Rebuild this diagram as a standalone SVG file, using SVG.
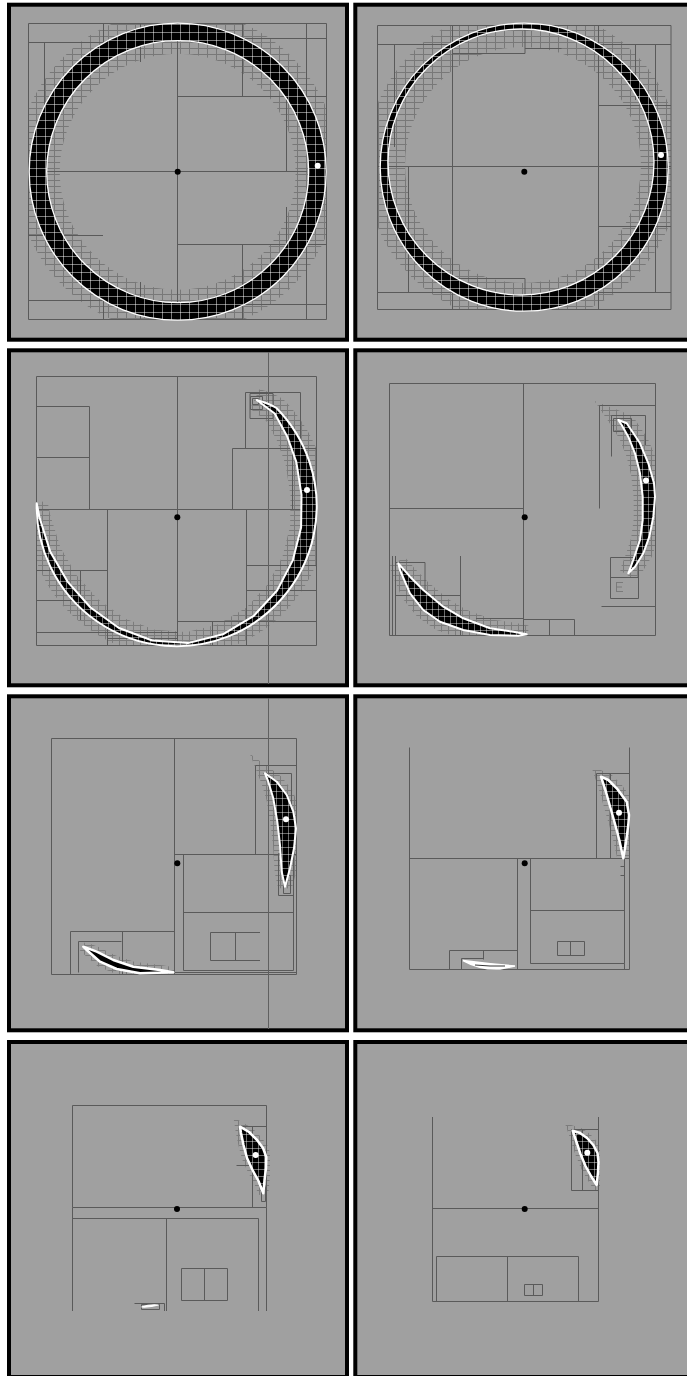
<svg xmlns="http://www.w3.org/2000/svg" xmlns:xlink="http://www.w3.org/1999/xlink" width="687" height="1376" viewBox="0 0 687 1376">
<style>
.frame{fill:#a0a0a0;stroke:#000;stroke-width:4}
.q{fill:none;stroke:#5a5a5a;stroke-width:1}
.ql{fill:none;stroke:#7a7a7a;stroke-width:1}
.cr{fill:#000;stroke:#fff;stroke-width:2;stroke-linejoin:round}
.ring{fill:#000;fill-rule:evenodd}
.wo{fill:none;stroke:#fff;stroke-width:1.3}
.cd{fill:#000}
.wd{fill:#fff}
</style>
<defs>
<pattern id="gg" width="9" height="6" patternUnits="userSpaceOnUse"><path d="M0 0.5H9M0.5 0V6" fill="none" stroke="#787878" stroke-width="1"/></pattern>
<pattern id="gs" width="7" height="5" patternUnits="userSpaceOnUse"><path d="M0 0.5H7M0.5 0V5" fill="none" stroke="#7c7c7c" stroke-width="1"/></pattern>
<pattern id="wg" width="9" height="8" patternUnits="userSpaceOnUse"><path d="M0 0.5H9M0.5 0V8" fill="none" stroke="#fff" stroke-width="0.8" opacity="0.6"/></pattern>
<pattern id="ws" width="6" height="7" patternUnits="userSpaceOnUse"><path d="M0 0.5H6M0.5 0V7" fill="none" stroke="#fff" stroke-width="0.7" opacity="0.6"/></pattern>
<path id="r1" d="M29.2 171.7a148.5 148.5 0 1 0 297 0a148.5 148.5 0 1 0 -297 0ZM46.7 171.7a131 131 0 1 0 262 0a131 131 0 1 0 -262 0Z"/>
<path id="r2" d="M380.2 167.2a144 144 0 1 0 288 0a144 144 0 1 0 -288 0ZM388 162a133 133 0 1 0 266 0a133 133 0 1 0 -266 0Z"/>
<path id="c3" d="M256.7 400Q268 403 276.4 408A140 140 0 1 1 36.7 503.3L39.5 517.5L50.1 551.4L67.5 581.6L90.5 607.5L118.9 628L152.2 640.5L188 643.1L222.9 634.3L253.4 616.2L277.1 590.5L292.9 560.1L301.1 527.6L301.5 494.6L296.3 461.8L287.1 436.2L274.7 413.5Z"/>
<path id="c4a" d="M618.3 420L626.7 423.3L640 443.3L648.3 463.3L654 483.3L655 496.7L653.3 516.7L649.3 536.7L643.3 553.3L635 566.7L628.3 573.3L633.3 560L640 540L642.7 520L642.7 496.7L640 473.3L635 453.3L628.3 436.7L621.7 425Z"/>
<path id="c4b" d="M398.3 563.3L400 570L410 593.3L423.3 610L440 621.7L463.3 630L490 635L518.3 635.7L526.7 634.3L513.3 631.7L490 628.3L463.3 618.3L443.3 606.7L423.3 590L410 576.7Z"/>
<path id="c5a" d="M265 773.3L276.7 781.7L286.7 795L293.3 811.7L296 828.3L294 848.3L290 868.3L285 886.7L281.7 871.7L280 845L277.3 821.7L273.3 798.3L268.3 781.7Z"/>
<path id="c5b" d="M83.3 946.7L86.7 950L100 961.7L116.7 969L140 973.3L173.3 972.3L160 970L133.3 966.7L113.3 960L96.7 951.7Z"/>
<path id="c6a" d="M601 776.7L608.3 780L616.7 788.3L626.7 801.7L629 815L628.3 825L626 841.7L623.3 858.3L619.3 840L615.3 825L610.5 808L606 792Z"/>
<path id="c7" d="M240 1126.7L249 1132L257 1140L263 1148L266.3 1157L266 1168L264.5 1180L263.3 1193.3L258.5 1181L252.5 1170L247 1158L243.5 1145L241 1133Z"/>
<path id="c8" d="M572.7 1130.7L580 1133L587 1138L593.3 1145L597.5 1153L598.5 1162L598 1172L596.7 1185L591 1176L585.5 1166L580.5 1154L576.5 1142Z"/>
<mask id="m1g"><circle cx="177.7" cy="171.7" r="140" fill="none" stroke="#fff" stroke-width="44"/></mask>
<mask id="m1w"><use xlink:href="#r1" fill="#fff" fill-rule="evenodd"/></mask>
<mask id="m2g"><circle cx="523" cy="165" r="138" fill="none" stroke="#fff" stroke-width="40"/></mask>
<mask id="m2w"><use xlink:href="#r2" fill="#fff" fill-rule="evenodd"/></mask>
<mask id="m3g"><use xlink:href="#c3" fill="none" stroke="#fff" stroke-width="22"/></mask>
<mask id="m3w"><use xlink:href="#c3" fill="#fff"/></mask>
<mask id="m4g"><use xlink:href="#c4a" fill="none" stroke="#fff" stroke-width="18"/><use xlink:href="#c4b" fill="none" stroke="#fff" stroke-width="18"/></mask>
<mask id="m4w"><use xlink:href="#c4a" fill="#fff"/><use xlink:href="#c4b" fill="#fff"/></mask>
<mask id="m5g"><use xlink:href="#c5a" fill="none" stroke="#fff" stroke-width="14"/><use xlink:href="#c5b" fill="none" stroke="#fff" stroke-width="10"/></mask>
<mask id="m5w"><use xlink:href="#c5a" fill="#fff"/></mask>
<mask id="m6g"><use xlink:href="#c6a" fill="none" stroke="#fff" stroke-width="12"/></mask>
<mask id="m6w"><use xlink:href="#c6a" fill="#fff"/></mask>
<mask id="m7g"><use xlink:href="#c7" fill="none" stroke="#fff" stroke-width="10"/></mask>
<mask id="m7w"><use xlink:href="#c7" fill="#fff"/></mask>
<mask id="m8g"><use xlink:href="#c8" fill="none" stroke="#fff" stroke-width="10"/></mask>
<mask id="m8w"><use xlink:href="#c8" fill="#fff"/></mask>
</defs>
<rect width="687" height="1376" fill="#fff"/>

<g id="panel1">
<rect class="frame" x="9" y="4.7" width="338" height="335"/>
<rect x="29" y="23.5" width="297.5" height="296" fill="url(#gg)" mask="url(#m1g)"/>
<path class="q" d="M28.5 23.5H326.5V319.5H28.5ZM45 171.5H307M177.5 41V302M177.5 96.5H326.5M177.5 244.5H326.5M242.5 23V96.5M242.5 244.5V319.5M286.5 96.5V171.5M286.5 207V244.5M28.5 42.5H103M44.5 42.5V235M28.5 235.5H103M140.5 23V62M140.5 282V319M306.5 23V96.5M242.5 38.5H326.5M306.5 244.5V319.5M242.5 304.5H326.5M28.5 300.5H103M103.5 23V42.5M103.5 300.5V319.5"/>
<use xlink:href="#r1" class="ring"/>
<rect x="29" y="23" width="298" height="298" fill="url(#wg)" mask="url(#m1w)"/>
<circle class="wo" cx="177.7" cy="171.7" r="148.5"/>
<circle class="wo" cx="177.7" cy="171.7" r="131"/>
<circle class="cd" cx="177.7" cy="171.7" r="3"/>
<circle class="wd" cx="317.7" cy="165.7" r="3"/>
</g>

<g id="panel2">
<rect class="frame" x="355.3" y="4.7" width="340" height="335"/>
<rect x="378" y="25.5" width="293" height="284" fill="url(#gg)" mask="url(#m2g)"/>
<path class="q" d="M377.5 25.5H671V309.5H377.5ZM377.5 166.5H671M452.5 25.5V309.5M598.5 25.5V309.5M377.5 44.5H452.5M598.5 44.5H671M377.5 292.5H452.5M598.5 292.5H671M452.5 53.5H525M525 29V53.5M525 48.5H561.5M452.5 278.5H525M525 278.5V309.5M394.5 44.5V147M408.5 166.5V292.5M635.5 44.5V100M655.5 44.5V100M598.5 105.5H671M598.5 226.5H671M655.5 226.5V292.5"/>
<use xlink:href="#r2" class="ring"/>
<rect x="379" y="22" width="291" height="290" fill="url(#wg)" mask="url(#m2w)"/>
<circle class="wo" cx="524.2" cy="167.2" r="144"/>
<circle class="wo" cx="521" cy="162" r="133"/>
<circle class="cd" cx="524.3" cy="171.7" r="3"/>
<circle class="wd" cx="661" cy="155" r="3"/>
</g>

<g id="panel3">
<rect class="frame" x="9" y="350.3" width="338" height="335"/>
<rect x="36.5" y="376.5" width="280" height="269" fill="url(#gs)" mask="url(#m3g)"/>
<path class="q" d="M36.5 376.5H316.5V645.5H36.5ZM177.5 376.5V645.5M36.5 509.5H316.5M36.5 406.5H89.5V509.5M36.5 457.5H89.5M232.5 448.5V509.5M232.5 448.5H316.5M245.5 392.5H300.5V448.5M245.5 392.5V448.5M292.5 448.5V509.5M250.5 396.5H262.5V409.5H250.5ZM252.5 398.5H258.5V404.5H252.5ZM250 393.5H273V418.5H250ZM107.5 509.5V645.5M36.5 570.5H107.5M36.5 632.5H177.5M107.5 638.5H177.5M246.5 509.5V645.5M246.5 565.5H316.5M177.5 621.5H316.5M212.5 621.5V645.5M246.5 590.5H316.5M36.5 600.5H80M80.5 570.5V620"/>
<path d="M268.5 352V684" fill="none" stroke="#606060" stroke-width="1"/>
<use xlink:href="#c3" class="cr"/>
<rect x="36" y="398" width="282" height="250" fill="url(#ws)" mask="url(#m3w)"/>
<circle class="cd" cx="177.3" cy="517.3" r="3"/>
<circle class="wd" cx="307" cy="490" r="3"/>
</g>

<g id="panel4">
<rect class="frame" x="355.3" y="350.3" width="340" height="335"/>
<rect x="389.5" y="383.5" width="266" height="252" fill="url(#gs)" mask="url(#m4g)"/>
<path class="q" d="M389.5 383.5H655.5V635.5H389.5ZM523.5 383.5V635.5M389.5 508.5H523.5M599.5 405.5V508.5M599.5 405.5H655.5M611.5 456.5V415.5H645.5V445M613.5 418.5H631.5V431.5H613.5ZM610.5 557.5H638.5V598.5H610.5ZM610.5 577.5H638.5M601.5 606.5H655.5M395.5 556V635.5M392.5 556V635M395.5 562.5H425V595M395.5 595.5H460M460.5 556V635.5M476 618.5H523.5M523.5 619.5H574.5V635.5M549.5 619.5V635.5"/>
<path class="ql" d="M616.5 582V592M616.5 582.5H623M616.5 587H622M616.5 591.5H623M651.5 456.5V556.5"/>
<use xlink:href="#c4a" class="cr"/>
<use xlink:href="#c4b" class="cr"/>
<rect x="395" y="415" width="262" height="225" fill="url(#ws)" mask="url(#m4w)"/>
<circle class="cd" cx="524.7" cy="517.3" r="3"/>
<circle class="wd" cx="646" cy="480.5" r="3"/>
</g>

<g id="panel5">
<rect class="frame" x="9" y="696.3" width="338" height="334"/>
<rect x="51.5" y="738.5" width="245" height="236" fill="url(#gs)" mask="url(#m5g)"/>
<path class="q" d="M51.5 738.5H296.5V974.5H51.5ZM174.5 738.5V974.5M174.5 854.5H296.5M183.5 854.5V970.5H293.5V854.5M183.5 912.5H293.5M260 932.5H210.5V960.5H260M235.5 932.5V960.5M255.5 854.5V765.5H296.5M263.5 773.5H291.5V840M278.5 853.5H293.5V895.5H278.5ZM283.5 875.5H290.5V893.5H283.5ZM70.5 974.5V931.5H174.5M122.5 931.5V974.5M78.5 972.5V941.5H121.5M174.5 972.5H296.5"/>
<path d="M268.5 698V1029" fill="none" stroke="#606060" stroke-width="1"/>
<use xlink:href="#c5a" class="cr"/>
<use xlink:href="#c5b" class="cr" style="stroke-width:2.5"/>
<rect x="260" y="770" width="40" height="120" fill="url(#ws)" mask="url(#m5w)"/>
<circle class="cd" cx="177.3" cy="863.3" r="3"/>
<circle class="wd" cx="286" cy="819.3" r="3"/>
</g>

<g id="panel6">
<rect class="frame" x="355.3" y="696.3" width="340" height="334"/>
<rect x="590" y="770" width="40" height="95" fill="url(#gs)" mask="url(#m6g)"/>
<path class="q" d="M409.5 747.5V969.5H629.5V747.5M409.5 858.5H629.5M517.5 858.5V969.5M530.5 858.5V963.5H624.5V858.5M530.5 910.5H624.5M624.5 963.5V969.5M557.5 941.5H584.5V955.5H557.5ZM570.5 941.5V955.5M449.5 969.5V950.5H517.5M483.5 950.5V959.5M461.5 969.5V958.5H483.5M596.5 858.5V773.5H629.5M610.5 773.5V858.5M620.5 866.5H624M620.5 875.5H624"/>
<use xlink:href="#c6a" class="cr" style="stroke-width:2.5"/>
<rect x="598" y="775" width="33" height="85" fill="url(#ws)" mask="url(#m6w)"/>
<path d="M463 960.5Q480 970 500 969L515 966Q490 964 463 960.5Z" fill="#fff" stroke="#fff" stroke-width="1.5"/>
<path d="M475 965Q490 966.5 505 966" fill="none" stroke="#000" stroke-width="0.8"/>
<circle class="cd" cx="524.7" cy="863.3" r="3"/>
<circle class="wd" cx="619" cy="812.7" r="3"/>
</g>

<g id="panel7">
<rect class="frame" x="9" y="1042" width="338" height="335"/>
<rect x="230" y="1120" width="40" height="80" fill="url(#gs)" mask="url(#m7g)"/>
<path class="q" d="M72.5 1105.5H266.5V1207.5H72.5ZM72.5 1207.5V1311M72.5 1218.5H258.5V1311M266.5 1207.5V1311M166.5 1218.5V1311M181.5 1268.5H227.5V1300.5H181.5ZM204.5 1268.5V1300.5M134.5 1303.5H164.5V1311M141.5 1304.5H159.5V1309.5H141.5ZM252.5 1126.5V1207.5M240 1126.5H266.5M236.5 1165.5H252.5M261.5 1186.5H265.5V1201.5H261.5Z"/>
<use xlink:href="#c7" class="cr" style="stroke-width:2.5"/>
<rect x="238" y="1125" width="30" height="70" fill="url(#ws)" mask="url(#m7w)"/>
<path d="M141.5 1307Q150 1304 158.5 1305Q150 1307.5 141.5 1307Z" fill="#fff" stroke="#fff" stroke-width="1.2"/>
<circle class="cd" cx="177" cy="1209" r="3"/>
<circle class="wd" cx="255.7" cy="1155" r="3"/>
</g>

<g id="panel8">
<rect class="frame" x="355.3" y="1042" width="340" height="335"/>
<rect x="565" y="1125" width="35" height="65" fill="url(#gs)" mask="url(#m8g)"/>
<path class="q" d="M432.5 1117V1301.5H598.5V1117M432.5 1208.5H598.5M436.5 1301.5V1256.5H578.5V1301.5M507.5 1256.5V1301.5M524.5 1284.5H542.5V1295.5H524.5ZM533.5 1284.5V1295.5M571.5 1129.5H598.5M571.5 1129.5V1190.5H598.5M582.5 1129.5V1190.5"/>
<use xlink:href="#c8" class="cr" style="stroke-width:2.5"/>
<rect x="570" y="1128" width="32" height="60" fill="url(#ws)" mask="url(#m8w)"/>
<circle class="cd" cx="524.7" cy="1209" r="3"/>
<circle class="wd" cx="587.3" cy="1152.7" r="3"/>
</g>
</svg>
